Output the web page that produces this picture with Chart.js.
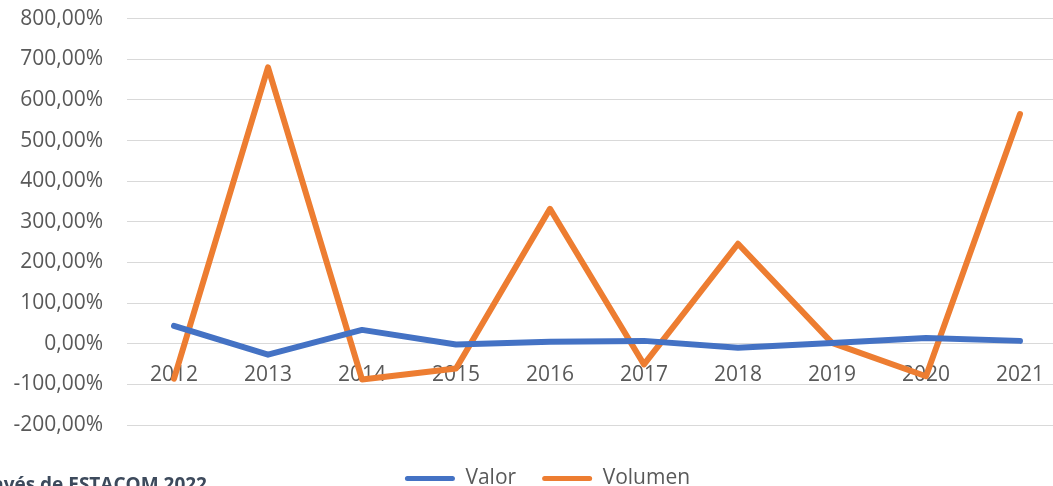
<!DOCTYPE html>
<html>
<head>
<meta charset="utf-8">
<script src="https://cdn.jsdelivr.net/npm/chart.js@4"></script>
<style>
  html, body { margin: 0; padding: 0; background: #fff; overflow: hidden; width: 1053px; height: 486px; }
  #wrap { position: absolute; left: 0; top: -18px; width: 1083px; height: 517px; }
  #fuente {
    position: absolute; right: calc(100% - 207px); top: 475px;
    font: bold 19px 'Open Sans'; line-height: 1; color: #3d4a5c; white-space: nowrap;
  }
</style>
</head>
<body>
<div id="wrap"><canvas id="grafico"></canvas></div>
<div id="fuente">Fuente: elaboración propia a través de ESTACOM 2022</div>
<script>
const years = ['2012', '2013', '2014', '2015', '2016', '2017', '2018', '2019', '2020', '2021'];
const valor = [44, -27, 34, -2, 5, 7, -10, 2, 14, 7];
const volumen = [-86, 680, -88, -61, 332, -51, 246, 2, -80, 565];
const yTicks = [-200, -100, 0, 100, 200, 300, 400, 500, 600, 700, 800];

const fmtPct = (v) => v.toFixed(2).replace('.', ',') + '%';

// etiquetas de años junto al eje 0, como en Excel
const yearLabels = {
  id: 'yearLabels',
  afterLayout(chart) {
    // la leyenda está algo desplazada a la derecha en el original
    chart.legend.left += 14;
    chart.legend.right += 14;
  },
  beforeDatasetsDraw(chart) {
    const { ctx, scales: { x, y } } = chart;
    ctx.save();
    ctx.font = '21px "Open Sans"';
    ctx.fillStyle = '#595959';
    ctx.textAlign = 'center';
    ctx.textBaseline = 'middle';
    const y0 = y.getPixelForValue(0) + 31;
    years.forEach((yr, i) => ctx.fillText(yr, x.getPixelForValue(i), y0));
    ctx.restore();
  }
};

const ctx = document.getElementById('grafico').getContext('2d');

new Chart(ctx, {
  type: 'line',
  data: {
    labels: years,
    datasets: [
      {
        label: 'Valor',
        data: valor,
        borderColor: '#4472C4',
        backgroundColor: '#4472C4',
        borderWidth: 6,
        pointRadius: 0,
        borderJoinStyle: 'round',
        borderCapStyle: 'round',
        tension: 0
      },
      {
        label: 'Volumen',
        data: volumen,
        borderColor: '#ED7D31',
        backgroundColor: '#ED7D31',
        borderWidth: 6,
        pointRadius: 0,
        borderJoinStyle: 'round',
        borderCapStyle: 'round',
        tension: 0
      }
    ]
  },
  options: {
    responsive: true,
    maintainAspectRatio: false,
    animation: false,
    layout: { padding: { top: 5, left: 0, right: 16, bottom: 0 } },
    plugins: {
      legend: {
        position: 'bottom',
        labels: {
          font: { family: 'Open Sans', size: 21 },
          color: '#595959',
          boxWidth: 50,
          boxHeight: 5,
          padding: 26,
          useBorderRadius: true,
          borderRadius: 2.5,
          generateLabels(chart) {
            return Chart.defaults.plugins.legend.labels.generateLabels(chart).map((item) => {
              item.lineWidth = 0;
              item.fillStyle = item.strokeStyle;
              return item;
            });
          }
        }
      },
      tooltip: { enabled: false }
    },
    scales: {
      x: {
        offset: true,
        grid: { display: false },
        border: { display: false },
        ticks: { display: false },
        afterFit: (s) => { s.height = 17; }
      },
      y: {
        min: -200,
        max: 800,
        afterFit: (s) => { s.width = 127; },
        afterBuildTicks: (s) => { s.ticks = yTicks.map((v) => ({ value: v })); },
        grid: { color: '#d9d9d9', lineWidth: 1, drawTicks: false },
        border: { display: false },
        ticks: {
          padding: 24,
          color: '#595959',
          font: { family: 'Open Sans', size: 21 },
          callback: (v) => fmtPct(v)
        }
      }
    }
  },
  plugins: [yearLabels]
});
</script>
</body>
</html>
